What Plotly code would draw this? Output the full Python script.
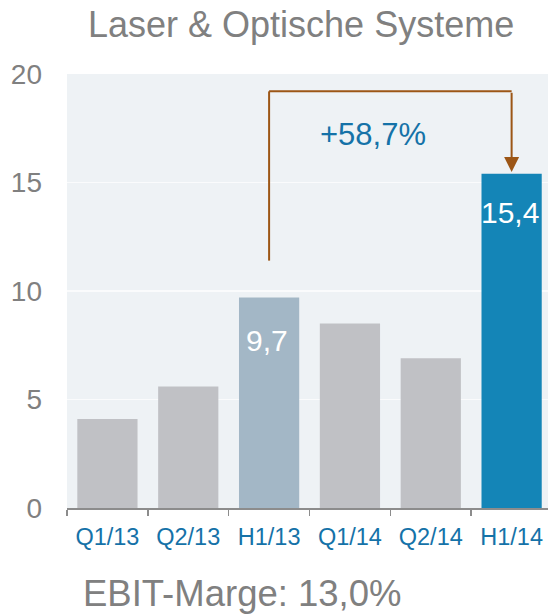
import plotly.graph_objects as go

categories = ["Q1/13", "Q2/13", "H1/13", "Q1/14", "Q2/14", "H1/14"]
values = [4.1, 5.6, 9.7, 8.5, 6.9, 15.4]
bar_colors = ["#c0c1c5", "#c0c1c5", "#a3b7c6", "#c0c1c5", "#c0c1c5", "#1485b7"]
inside_labels = {2: "9,7", 5: "15,4"}
inside_label_shift = {2: -43, 5: -39}
y_ticks = [0, 5, 10, 15, 20]
title_text = "Laser & Optische Systeme"
growth_text = "+58,7%"
footer_text = "EBIT-Marge: 13,0%"
bracket_from, bracket_to = 2, 5
bracket_top = 19.2
bracket_left_bottom = 11.4

FONT = "Liberation Sans, Arial, sans-serif"
BROWN = "#9c5616"
BLUE_TXT = "#1572a8"
GRAY_TXT = "#808080"

fig = go.Figure()
fig.add_bar(x=list(range(len(categories))), y=values, marker_color=bar_colors,
            marker_line_width=0, width=0.745, hoverinfo="skip")

# inside value labels
for i, txt in inside_labels.items():
    fig.add_annotation(x=i, y=values[i], text=txt, showarrow=False,
                       yshift=inside_label_shift[i], xshift=-2,
                       font=dict(family=FONT, size=30, color="white"))

# bracket
fig.add_shape(type="line", x0=bracket_from, x1=bracket_from, y0=bracket_left_bottom, y1=bracket_top,
              line=dict(color=BROWN, width=2))
fig.add_shape(type="line", x0=bracket_from, x1=bracket_to, y0=bracket_top, y1=bracket_top,
              line=dict(color=BROWN, width=2))
fig.add_annotation(x=bracket_to, y=values[bracket_to] + 0.08, ax=bracket_to, ay=bracket_top,
                   axref="x", ayref="y", xref="x", yref="y", showarrow=True, text="",
                   arrowhead=2, arrowsize=1.5, arrowwidth=2, arrowcolor=BROWN)
fig.add_annotation(x=(bracket_from + bracket_to) / 2, y=17.2, text=growth_text, showarrow=False,
                   xshift=-17, font=dict(family=FONT, size=31, color=BLUE_TXT))

fig.add_annotation(xref="paper", yref="paper", x=(300.5 - 67) / 481, y=1, yshift=50,
                   text=title_text, showarrow=False, yanchor="middle",
                   font=dict(family=FONT, size=36, color=GRAY_TXT))
fig.add_annotation(xref="paper", yref="paper", x=(242.5 - 67) / 481, y=0, yshift=-85,
                   text=footer_text, showarrow=False, yanchor="middle",
                   font=dict(family=FONT, size=36.5, color=GRAY_TXT))

fig.update_layout(
    width=548, height=614,
    margin=dict(l=67, r=0, t=74, b=106),
    paper_bgcolor="white", plot_bgcolor="#eef2f5",
    showlegend=False, bargap=0.26,
    font=dict(family=FONT),
)
fig.update_xaxes(
    type="linear", range=[-0.5, 5.45],
    tickmode="array", tickvals=list(range(len(categories))), ticktext=categories,
    tickfont=dict(family=FONT, size=23.5, color=BLUE_TXT),
    showgrid=False, zeroline=False,
    showline=True, linecolor="#8c8c8c", linewidth=1.5,
    ticks="", fixedrange=True,
)
fig.update_xaxes(minor=dict(tickvals=[i - 0.5 for i in range(len(categories))], ticks="outside",
                            ticklen=6, tickcolor="#8c8c8c", tickwidth=1.5, showgrid=False),
                 ticklabelstandoff=7)
fig.update_yaxes(
    range=[0, 20], tickvals=y_ticks, showgrid=True, gridcolor="#fafbfc", gridwidth=1.5,
    zeroline=False, showline=False, ticks="", fixedrange=True,
    tickfont=dict(family=FONT, size=28, color=GRAY_TXT), ticklabelstandoff=24,
)

fig.write_html("out.html", config={"displayModeBar": False, "staticPlot": True},
               post_script="document.body.style.margin='0';document.body.style.overflow='hidden';")
